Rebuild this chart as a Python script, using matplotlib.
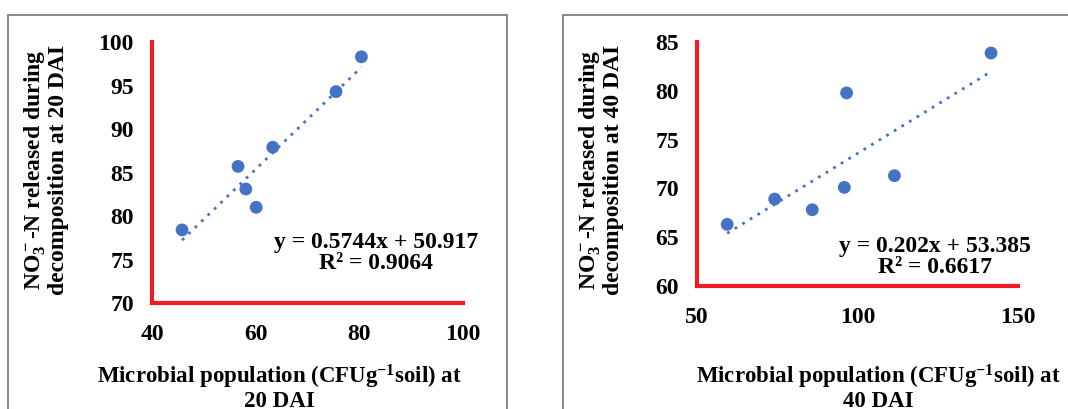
import matplotlib

matplotlib.use("Agg")
import matplotlib.pyplot as plt
from matplotlib.patches import Rectangle

# ---- data ----
x_20dai = [45.8, 56.6, 58.1, 60.1, 63.3, 75.5, 80.4]
y_20dai = [78.4, 85.7, 83.1, 81.0, 87.9, 94.3, 98.3]
slope_20, icpt_20, r2_20 = 0.5744, 50.917, 0.9064

x_40dai = [59.4, 74.2, 85.9, 96.6, 95.9, 111.5, 141.6]
y_40dai = [66.3, 68.9, 67.8, 79.8, 70.1, 71.3, 83.9]
slope_40, icpt_40, r2_40 = 0.202, 53.385, 0.6617

xticks_20 = [40, 60, 80, 100]
yticks_20 = [70, 75, 80, 85, 90, 95, 100]
xticks_40 = [50, 100, 150]
yticks_40 = [60, 65, 70, 75, 80, 85]

W, H = 1068, 409
BLUE = "#4472C4"
RED = "#ED1C24"

plt.rcParams["font.family"] = ["Liberation Serif", "DejaVu Serif"]
plt.rcParams["font.weight"] = "bold"
plt.rcParams["mathtext.fontset"] = "custom"
plt.rcParams["mathtext.rm"] = "Liberation Serif:bold"
plt.rcParams["mathtext.it"] = "Liberation Serif:bold"
plt.rcParams["mathtext.bf"] = "Liberation Serif:bold"

fig = plt.figure(figsize=(W / 100, H / 100), dpi=100)


def fx(px):
    return px / W


def fy(py):
    return 1 - py / H


def panel(box, ax_px, xs, ys, slope, icpt, r2, xlim, ylim, xticks, yticks, dai,
          ylab_x, ylab_y, xlab_x, eq_x, eq_y):
    # gray frame around each chart (runs off the bottom of the picture)
    l, t, r = box
    fig.patches.append(Rectangle((fx(l), fy(H + 5)), fx(r - l), fy(t) - fy(H + 5),
                                 transform=fig.transFigure, fill=False,
                                 edgecolor="#7f7f7f", linewidth=1.3))

    ax = fig.add_axes([fx(ax_px[0]), fy(ax_px[3]), fx(ax_px[1] - ax_px[0]),
                       fy(ax_px[2]) - fy(ax_px[3])])
    ax.set_xlim(*xlim)
    ax.set_ylim(*ylim)
    for s in ("top", "right"):
        ax.spines[s].set_visible(False)
    for s in ("left", "bottom"):
        ax.spines[s].set_color(RED)
        ax.spines[s].set_linewidth(3)
    ax.set_xticks(xticks)
    ax.set_yticks(yticks)
    ax.tick_params(axis="both", length=0, labelsize=17)
    ax.tick_params(axis="y", pad=13)
    ax.tick_params(axis="x", pad=15)

    x0, x1 = min(xs), max(xs)
    ax.plot([x0, x1], [slope * x0 + icpt, slope * x1 + icpt], color=BLUE,
            linestyle=(0, (1, 2.2)), linewidth=2)
    ax.scatter(xs, ys, s=85, color=BLUE, zorder=3, edgecolors="none")

    fig.text(fx(eq_x), fy(eq_y), f"y = {slope}x + {icpt}\nR\u00b2 = {r2}",
             ha="center", va="center", fontsize=17, fontweight="bold",
             linespacing=1.0)

    fig.text(fx(ylab_x), fy(ylab_y),
             "NO$_3^-$-N released during\ndecomposition at " + dai,
             rotation=90, ha="center", va="center", fontsize=17,
             fontweight="bold", linespacing=1.0)
    fig.text(fx(xlab_x), fy(387),
             "Microbial population (CFUg$^{-1}$soil) at\n" + dai,
             ha="center", va="center", fontsize=16.5, fontweight="bold",
             linespacing=1.0)
    return ax


panel((8, 15, 507), (152, 463, 42, 303), x_20dai, y_20dai, slope_20, icpt_20, r2_20,
      (40, 100), (70, 100), xticks_20, yticks_20, "20 DAI",
      46, 170, 279, 376, 253)

panel((563, 15, 1075), (697, 1018, 42.3, 285.7), x_40dai, y_40dai, slope_40, icpt_40,
      r2_40, (50, 150), (60, 85), xticks_40, yticks_40, "40 DAI",
      601, 170, 878, 935, 257)

fig.savefig("out.png", dpi=100)
